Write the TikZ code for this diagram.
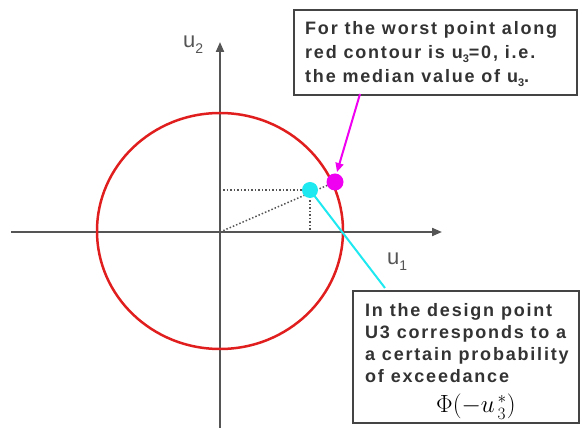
\documentclass[tikz,border=0pt]{standalone}
\usepackage{fontspec}
\setmainfont{Liberation Sans}
\newfontfamily\boxfont[LetterSpace=10]{Liberation Sans}
\usetikzlibrary{arrows.meta}
\definecolor{axisgray}{HTML}{555555}
\definecolor{circred}{HTML}{E01E1E}
\definecolor{dotcyan}{HTML}{1EE8F0}
\definecolor{dotmag}{HTML}{F000F0}
\definecolor{boxedge}{HTML}{444444}
\definecolor{boxtext}{HTML}{333333}
\tikzset{
  axis/.style={draw=axisgray, line width=2pt, -{Triangle[length=10pt,width=8pt]}},
  contour/.style={draw=circred, line width=2.5pt},
  dotline/.style={draw=axisgray, line width=1.5pt, dash pattern=on 1.5pt off 2pt},
  notebox/.style={draw=boxedge, line width=2pt, fill=white, anchor=north west, inner sep=0pt},
  boxline/.style={anchor=base west, inner sep=0pt, text=boxtext,
    font=\boxfont\bfseries\fontsize{18}{18}\selectfont},
  axlabel/.style={text=axisgray, font=\fontsize{22}{22}\selectfont, inner sep=0pt, anchor=base west},
}
\newcommand{\sbs}[1]{{\fontsize{11}{11}\selectfont\raisebox{-4pt}{#1}}}
\newcommand{\axsub}[1]{{\fontsize{14}{14}\selectfont\raisebox{-6pt}{#1}}}
\begin{document}
\begin{tikzpicture}[x=1pt,y=-1pt]
\useasboundingbox (0,0) rectangle (582,430);
\coordinate (O) at (220,232);
\coordinate (xl) at (11,232);
\coordinate (xr) at (442,232);
\coordinate (yb) at (220,428);
\coordinate (yt) at (220,42);
\draw[axis] (xl) -- (xr);
\draw[axis] (yb) -- (yt);
\node[axlabel] (u2) at (183,48) {u\axsub{2}};
\node[axlabel] (u1) at (387,265) {u\axsub{1}};
\draw[contour] (220,231) ellipse [x radius=123pt, y radius=118pt];
\coordinate (Cpos) at (310,190);
\coordinate (Mpos) at (335,182);
\coordinate (hl) at (223,190);
\coordinate (vb) at (310,232);
\draw[dotline] (O) -- (Mpos);
\draw[dotline] (hl) -- (Cpos);
\draw[dotline] (Cpos) -- (vb);
\coordinate (cend) at (385,288);
\draw[draw=dotcyan, line width=2pt] (Cpos) -- (cend);
\node[circle, fill=dotcyan, minimum size=16pt, inner sep=0pt] (C) at (Cpos) {};
\node[circle, fill=dotmag, minimum size=17pt, inner sep=0pt] (M) at (Mpos) {};
% top note
\node[notebox, minimum width=283pt, minimum height=85pt] (tb) at (293,9) {};
\node[boxline] (t1) at (305,35) {For the worst point along};
\node[boxline] (t2) at (305,59) {red contour is u\sbs{3}=0, i.e.};
\node[boxline] (t3) at (305,83) {the median value of u\sbs{3}.};
% bottom note
\node[notebox, minimum width=226pt, minimum height=132pt] (bb) at (352,290) {};
\node[boxline] (b1) at (365,317) {In the design point};
\node[boxline] (b2) at (365,339) {U3 corresponds to a};
\node[boxline] (b3) at (365,361) {a certain probability};
\node[boxline] (b4) at (365,383) {of exceedance};
\node[anchor=base west, inner sep=0pt, text=black, font=\fontsize{24}{24}\selectfont] (bf) at (436,413)
  {$\Phi(-u_{\,3}^{\,*})$};
\coordinate (mstart) at (360,94);
\coordinate (mtip) at (337,172);
\draw[draw=dotmag, line width=2pt, -{Triangle[length=9pt,width=8pt]}] (mstart) -- (mtip);
\end{tikzpicture}
\end{document}
